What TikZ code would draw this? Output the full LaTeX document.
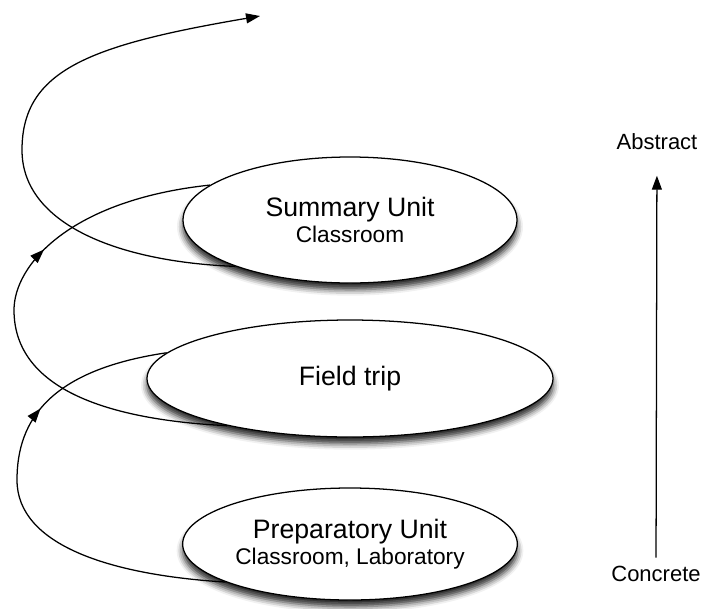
\documentclass[tikz,border=0pt]{standalone}
\usepackage{fontspec}
\setmainfont{Liberation Sans}
\usetikzlibrary{shapes.geometric,arrows.meta,decorations.markings,shadows.blur}

\newcommand{\sitetxt}[1]{{\fontsize{17}{19.5}\selectfont #1}}

\tikzset{every picture/.style={line width=0.95pt}}
\tikzset{
  unit/.style={ellipse, draw, fill=white, inner sep=0pt, align=center,
    font=\fontsize{20}{19.5}\selectfont,
    blur shadow={shadow xshift=0pt, shadow yshift=-5pt, shadow blur radius=4.5pt, shadow opacity=85}},
  lbl/.style={inner sep=0pt, font=\fontsize{16.5}{19}\selectfont},
  arrowhd/.style={-{Triangle[length=10.5pt,width=7.5pt]}},
  midarrow/.style={postaction={decorate}, decoration={markings,
    mark=at position #1 with {\arrow{Triangle[length=10.5pt,width=7.5pt]}}}}
}

\begin{document}
\begin{tikzpicture}[x=0.75pt,y=0.75pt,yscale=-1,xscale=1]
\useasboundingbox (0,0) rectangle (704,608);

%Ellipse
\draw (350,220) node [unit, minimum width=250.5pt, minimum height=94.5pt] (sum) {Summary Unit\\\sitetxt{Classroom}};
%Ellipse
\draw (350,378.5) node [unit, minimum width=304.5pt, minimum height=87.75pt] (field) {Field trip};
%Ellipse
\draw (350,544) node [unit, minimum width=251pt, minimum height=84pt] (prep) {Preparatory Unit\\\sitetxt{Classroom, Laboratory}};

%Curve Lines
\coordinate (up) at (260,16);
\draw [midarrow=0.70] (prep.197) .. controls (110,575) and (17,545) .. (17,480) .. controls (17,420) and (50,370) .. (field.172);
\draw [midarrow=0.65] (field.201) .. controls (110,420) and (14,390) .. (14,310) .. controls (14,265) and (70,200) .. (sum.166);
\draw [arrowhd] (sum.202) .. controls (120,262) and (22,225) .. (22,150) .. controls (22,70) and (90,45) .. (up);

% Text Node
\draw (657,142) node [lbl] (abs) {Abstract};
% Text Node
\draw (656,574) node [lbl] (conc) {Concrete};
%Straight Lines
\draw [arrowhd, shorten >=18.75pt, shorten <=6pt] (conc) -- (abs);

\end{tikzpicture}
\end{document}
